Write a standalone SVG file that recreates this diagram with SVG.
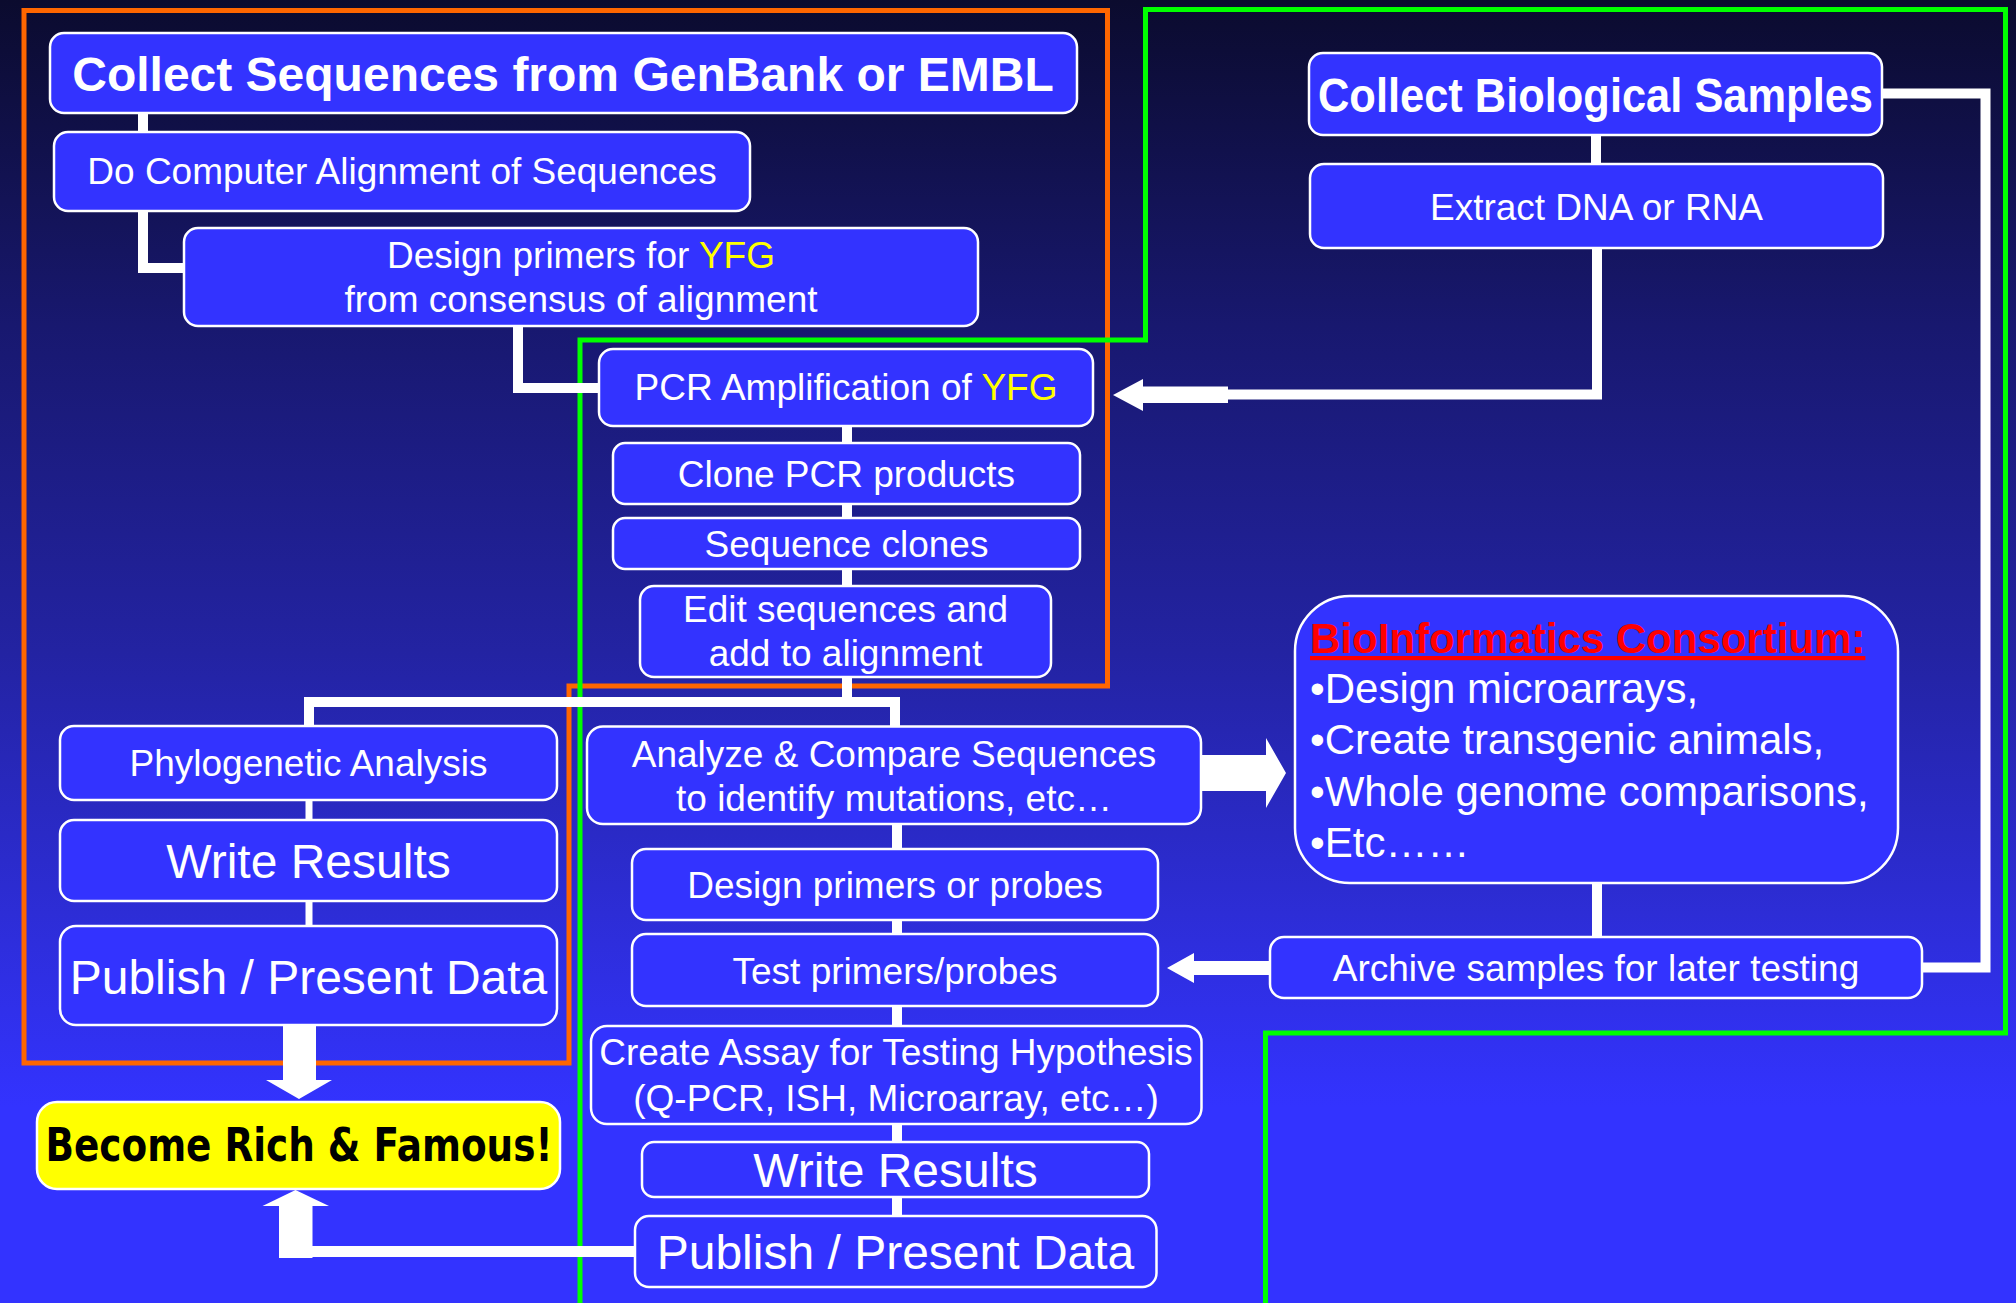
<svg xmlns="http://www.w3.org/2000/svg" width="2016" height="1303" viewBox="0 0 2016 1303">
<defs>
<linearGradient id="bg" x1="0" y1="0" x2="0" y2="1">
<stop offset="0" stop-color="#0b0b2e"/>
<stop offset="0.25" stop-color="#18186f"/>
<stop offset="0.5" stop-color="#2323a2"/>
<stop offset="0.7" stop-color="#2d2dd6"/>
<stop offset="0.85" stop-color="#3333ff"/>
<stop offset="1" stop-color="#3333ff"/>
</linearGradient>
<style>
.box{fill:#3333ff;stroke:#ffffff;stroke-width:2.5}
.t{font-family:"Liberation Sans",Arial,sans-serif;fill:#ffffff;text-anchor:middle;font-size:37px}
.b{font-weight:bold;font-size:48px}
.big{font-size:48px}
.y{fill:#ffff00}
.ln{stroke:#ffffff;stroke-width:10;fill:none}
.thin{stroke:#ffffff;stroke-width:7;fill:none}
.ar{fill:#ffffff}
.frame{fill:none;stroke-width:5}
</style>
</defs>
<rect x="0" y="0" width="2016" height="1303" fill="url(#bg)"/>

<g id="frames">
<path class="frame" stroke="#ff6600" d="M24,10.5 H1107.5 V686 H569 V1063 H24 Z"/>
<path class="frame" stroke="#00ff00" d="M580,1310 V340 H1145.5 V9.5 H2005.5 V1033 H1265.5 V1310"/>
</g>

<g id="connectors">
<path class="ln" d="M143,113 V132"/>
<path class="ln" d="M143,211 V268 H184"/>
<path class="ln" d="M518,326 V388 H599"/>
<path class="ln" d="M847,426 V443"/>
<path class="ln" d="M847,504 V518"/>
<path class="ln" d="M847,569 V586"/>
<path class="ln" d="M847,677 V702"/>
<path class="ln" d="M309,726 V702 H895 V726"/>
<path class="thin" d="M309,800 V820"/>
<path class="thin" d="M309,901 V926"/>
<path class="ln" d="M897,824 V849"/>
<path class="ln" d="M897,920 V934"/>
<path class="ln" d="M897,1006 V1026"/>
<path class="ln" d="M897,1124 V1142"/>
<path class="ln" d="M897,1197 V1216"/>
<path class="ln" d="M1596,135 V164"/>
<path class="ln" d="M1597,248 V394.5 H1228"/>
<polygon class="ar" points="1228,386.5 1143,386.5 1143,379 1113,395 1143,411 1143,403 1228,403"/>
<path class="ln" d="M1882,93.5 H1985.5 V967.5 H1922"/>
<path class="ln" d="M1597,883 V937"/>
<polygon class="ar" points="1270,961 1194,961 1194,953 1167,968 1194,983 1194,975 1270,975"/>
<polygon class="ar" points="1201,755 1266,755 1266,738 1286,773 1266,808 1266,791 1201,791"/>
<polygon class="ar" points="283,970 316,970 316,1080 332,1080 299,1099 266,1080 283,1080"/>
<path class="ln" d="M635,1251.5 H300" style="stroke-width:11"/>
<polygon class="ar" points="279,1258 312.5,1258 312.5,1206 329,1206 295.5,1190 262.5,1206 279,1206"/>
</g>

<g id="n-collect-seq">
<rect class="box" x="50" y="33" width="1027" height="80" rx="14"/>
<text class="t b" x="563" y="91">Collect Sequences from GenBank or EMBL</text>
</g>
<g id="n-align">
<rect class="box" x="54" y="132" width="696" height="79" rx="14"/>
<text class="t" x="402" y="184">Do Computer Alignment of Sequences</text>
</g>
<g id="n-design-primers">
<rect class="box" x="184" y="228" width="794" height="98" rx="14"/>
<text class="t" x="581" y="268">Design primers for <tspan class="y">YFG</tspan></text>
<text class="t" x="581" y="312">from consensus of alignment</text>
</g>
<g id="n-pcr">
<rect class="box" x="599" y="349" width="494" height="77" rx="14"/>
<text class="t" x="846" y="400">PCR Amplification of <tspan class="y">YFG</tspan></text>
</g>
<g id="n-clone">
<rect class="box" x="613" y="443" width="467" height="61" rx="12"/>
<text class="t" x="846.5" y="487">Clone PCR products</text>
</g>
<g id="n-seqclones">
<rect class="box" x="613" y="518" width="467" height="51" rx="12"/>
<text class="t" x="846.5" y="557">Sequence clones</text>
</g>
<g id="n-edit">
<rect class="box" x="640" y="586" width="411" height="91" rx="14"/>
<text class="t" x="845.5" y="622">Edit sequences and</text>
<text class="t" x="845.5" y="666">add to alignment</text>
</g>
<g id="n-phylo">
<rect class="box" x="60" y="726" width="497" height="74" rx="14"/>
<text class="t" x="308.5" y="776">Phylogenetic Analysis</text>
</g>
<g id="n-write-left">
<rect class="box" x="60" y="820" width="497" height="81" rx="14"/>
<text class="t big" x="308.5" y="877.5">Write Results</text>
</g>
<g id="n-publish-left">
<rect class="box" x="60" y="926" width="497" height="99" rx="16"/>
<text class="t big" x="308.5" y="994">Publish / Present Data</text>
</g>
<g id="n-rich">
<rect x="37" y="1102" width="523" height="87" rx="20" fill="#ffff00" stroke="#ffffff" stroke-width="2.5"/>
<text x="299" y="1161" text-anchor="middle" textLength="507" lengthAdjust="spacingAndGlyphs" style="font-family:'Comic Sans MS','DejaVu Sans',sans-serif;font-weight:bold;font-size:46px;fill:#000000">Become Rich &amp; Famous!</text>
</g>
<g id="n-analyze">
<rect class="box" x="587" y="726.5" width="614" height="97.5" rx="16"/>
<text class="t" x="894" y="766.5">Analyze &amp; Compare Sequences</text>
<text class="t" x="894" y="811">to identify mutations, etc…</text>
</g>
<g id="n-design-probes">
<rect class="box" x="632" y="849" width="526" height="71" rx="14"/>
<text class="t" x="895" y="898">Design primers or probes</text>
</g>
<g id="n-test">
<rect class="box" x="632" y="934" width="526" height="72" rx="14"/>
<text class="t" x="895" y="984">Test primers/probes</text>
</g>
<g id="n-assay">
<rect class="box" x="591" y="1026" width="610.5" height="98" rx="16"/>
<text class="t" x="896" y="1065">Create Assay for Testing Hypothesis</text>
<text class="t" x="896" y="1111">(Q-PCR, ISH, Microarray, etc…)</text>
</g>
<g id="n-write-mid">
<rect class="box" x="642" y="1142" width="507" height="55" rx="12"/>
<text class="t big" x="895.5" y="1187">Write Results</text>
</g>
<g id="n-publish-mid">
<rect class="box" x="635" y="1216" width="521.5" height="71" rx="14"/>
<text class="t big" x="895.5" y="1269">Publish / Present Data</text>
</g>
<g id="n-collect-bio">
<rect class="box" x="1309" y="53" width="573" height="82" rx="14"/>
<text class="t b" x="1595.5" y="112" textLength="555" lengthAdjust="spacingAndGlyphs">Collect Biological Samples</text>
</g>
<g id="n-extract">
<rect class="box" x="1310" y="164" width="573" height="84" rx="14"/>
<text class="t" x="1596.5" y="220">Extract DNA or RNA</text>
</g>
<g id="n-bioinfo">
<rect class="box" x="1295" y="596" width="603" height="287" rx="55"/>
<text x="1310" y="653" text-decoration="underline" style="font-family:'Liberation Sans',Arial,sans-serif;font-weight:bold;font-size:42px;fill:#ff0000">BioInformatics Consortium:</text>
<text x="1310" y="703" style="font-family:'Liberation Sans',Arial,sans-serif;font-size:42px;fill:#ffffff">•Design microarrays,</text>
<text x="1310" y="754" style="font-family:'Liberation Sans',Arial,sans-serif;font-size:42px;fill:#ffffff">•Create transgenic animals,</text>
<text x="1310" y="806" style="font-family:'Liberation Sans',Arial,sans-serif;font-size:42px;fill:#ffffff">•Whole genome comparisons,</text>
<text x="1310" y="857" style="font-family:'Liberation Sans',Arial,sans-serif;font-size:42px;fill:#ffffff">•Etc……</text>
</g>
<g id="n-archive">
<rect class="box" x="1270" y="937" width="652" height="61" rx="14"/>
<text class="t" x="1596" y="981">Archive samples for later testing</text>
</g>
</svg>
